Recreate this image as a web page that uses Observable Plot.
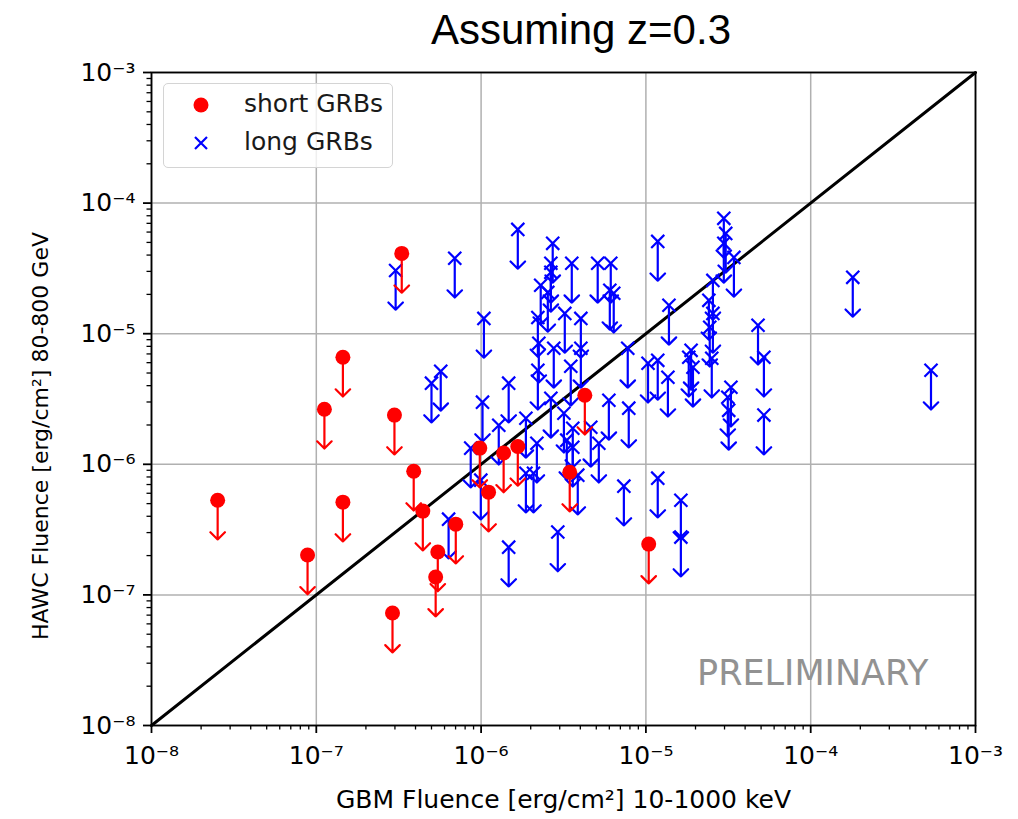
<!DOCTYPE html>
<html><head><meta charset="utf-8">
<script src="https://cdn.jsdelivr.net/npm/d3@7"></script>
<script src="https://cdn.jsdelivr.net/npm/@observablehq/plot@0.6"></script>
<style>
body{margin:0;background:#fff;}
#wrap{position:relative;width:1018px;height:819px;overflow:hidden;}
#title{position:absolute;left:0;width:1162px;top:6px;text-align:center;font-family:"Liberation Sans",sans-serif;font-size:42px;color:#000;}
#legend{position:absolute;left:163px;top:83px;width:230px;height:85px;box-sizing:border-box;border:1.5px solid #d4d4d4;border-radius:5px;background:rgba(255,255,255,0.8);font-family:"DejaVu Sans";font-size:25px;color:#1a1a1a;}
.item{position:absolute;left:0;height:30px;width:100%;}
.item svg{position:absolute;left:22px;top:0;}
.item span{position:absolute;left:80px;top:0px;line-height:28px;white-space:nowrap;}
</style></head><body><div id="wrap">
<div id="title">Assuming z=0.3</div>
</div>
<script>
// short GRBs: GBM fluence (erg/cm2) and HAWC fluence upper limits (erg/cm2)
const shortGBM  = [3.3e-7, 1.45e-7, 1.12e-7, 2.98e-7, 2.52e-8, 1.45e-7, 3.9e-7, 4.43e-7, 8.85e-8, 2.9e-7, 5.46e-7, 5.3e-7, 7.02e-7, 9.82e-7, 1.11e-6, 1.37e-6, 1.67e-6, 4.26e-6, 3.45e-6, 1.04e-5];
const shortHAWC = [4.12e-5, 6.6e-6, 2.64e-6, 2.38e-6, 5.31e-7, 5.13e-7, 8.85e-7, 4.38e-7, 2.02e-7, 7.26e-8, 2.13e-7, 1.37e-7, 3.48e-7, 1.33e-6, 6.12e-7, 1.22e-6, 1.37e-6, 3.38e-6, 8.7e-7, 2.45e-7];
// long GRBs
const longGBM  = [3.03e-7, 5.0e-7, 5.69e-7, 6.35e-7, 6.92e-7, 8.65e-7, 1.02e-6, 9.96e-7, 1.04e-6, 1.28e-6,
                  1.47e-6, 1.47e-6, 1.67e-6, 1.87e-6, 1.87e-6, 2.08e-6, 2.18e-6, 2.21e-6, 2.24e-6, 2.21e-6,
                  2.30e-6, 2.54e-6, 2.72e-6, 2.65e-6, 2.65e-6, 2.76e-6, 2.65e-6, 2.92e-6, 3.18e-6, 3.22e-6,
                  3.5e-6, 3.55e-6, 3.6e-6, 3.6e-6, 3.86e-6, 4.03e-6, 4.03e-6, 4.63e-6, 5.1e-6, 5.18e-6,
                  5.96e-6, 6.12e-6, 6.04e-6, 6.38e-6, 7.76e-6, 7.87e-6, 7.35e-6, 1.18e-5, 1.38e-5, 1.03e-5,
                  1.18e-5, 1.36e-5, 1.18e-5, 1.63e-5, 1.63e-5, 1.88e-5, 1.82e-5, 1.93e-5, 2.55e-5, 2.41e-5,
                  2.55e-5, 2.44e-5, 2.51e-5, 2.97e-5, 3.05e-5, 2.97e-5, 3.42e-5, 3.28e-5, 3.14e-5, 3.18e-5,
                  4.79e-5, 5.2e-5, 5.2e-5, 1.8e-4, 5.37e-4, 3.31e-6];
const longHAWC = [3.05e-5, 4.18e-6, 5.15e-6, 3.8e-7, 3.78e-5, 1.33e-6, 2.99e-6, 7.56e-7, 1.31e-5, 1.99e-6,
                  4.18e-6, 2.32e-7, 6.29e-5, 2.25e-6, 8.55e-7, 8.55e-7, 1.45e-6, 1.33e-5, 8.45e-6, 5.25e-6,
                  2.35e-5, 2.07e-5, 4.92e-5, 3.46e-5, 2.95e-5, 7.73e-6, 3.2e-6, 3.03e-7, 2.46e-6, 1.43e-5,
                  5.63e-6, 3.46e-5, 1.89e-6, 1.35e-6, 8.26e-7, 1.31e-5, 7.73e-6, 1.92e-6, 3.46e-5, 1.45e-6,
                  3.09e-6, 3.46e-5, 2.15e-5, 2.04e-5, 7.73e-6, 2.69e-6, 6.8e-7, 5.09e-5, 1.65e-5, 5.94e-6,
                  6.25e-6, 4.64e-6, 7.83e-7, 5.31e-7, 2.77e-7, 7.46e-6, 6.6e-6, 5.53e-6, 2.56e-5, 1.8e-5,
                  1.43e-5, 1.12e-5, 6.49e-6, 7.64e-5, 5.86e-5, 4.92e-5, 3.84e-5, 3.89e-6, 3.26e-6, 2.59e-6,
                  1.16e-5, 6.6e-6, 2.38e-6, 2.7e-5, 5.25e-6, 1.53e-6];
const decades = [1e-8, 1e-7, 1e-6, 1e-5, 1e-4, 1e-3];
const decadeLabels = ["10⁻⁸", "10⁻⁷", "10⁻⁶", "10⁻⁵", "10⁻⁴", "10⁻³"];
const minorMultipliers = [2, 3, 4, 5, 6, 7, 8, 9];
const identityLine = [1e-8, 1e-3];
const limitFactor = 0.5;
const xLabel = "GBM Fluence [erg/cm²] 10-1000 keV";
const yLabel = "HAWC Fluence [erg/cm²] 80-800 GeV";
const seriesNames = ["short GRBs", "long GRBs"];

const shortRows = shortGBM.map((x, i) => ({x, y: shortHAWC[i]}));
const longRows = longGBM.map((x, i) => ({x, y: longHAWC[i]}));
const minorTicks = decades.slice(0, -1).flatMap(d => minorMultipliers.map(m => m * d));
const fmt = d => decadeLabels[decades.indexOf(d)];

const chart = Plot.plot({
  width: 1018, height: 819,
  marginTop: 72, marginRight: 43, marginBottom: 94, marginLeft: 151,
  x: {type: "log", domain: [1e-8, 1e-3]},
  y: {type: "log", domain: [1e-8, 1e-3]},
  style: {fontFamily: "DejaVu Sans", fontSize: "24px", color: "#000", background: "#fff", overflow: "visible"},
  marks: [
    Plot.gridX(decades, {stroke: "#b0b0b0", strokeOpacity: 1, strokeWidth: 1.5}),
    Plot.gridY(decades, {stroke: "#b0b0b0", strokeOpacity: 1, strokeWidth: 1.5}),
    Plot.axisX(minorTicks, {tickSize: 4.5, tickFormat: () => "", label: null, strokeWidth: 1.3}),
    Plot.axisY(minorTicks, {tickSize: 4.5, tickFormat: () => "", label: null, strokeWidth: 1.3}),
    Plot.axisX(decades, {tickSize: 8, tickPadding: 13, tickFormat: fmt, label: null, strokeWidth: 1.8, fontSize: 25}),
    Plot.axisY(decades, {tickSize: 8, tickPadding: 8, tickFormat: fmt, label: null, strokeWidth: 1.8, fontSize: 25}),
    Plot.frame({stroke: "#000", strokeWidth: 1.8}),
    Plot.line(identityLine, {x: d => d, y: d => d, stroke: "#000", strokeWidth: 3}),
    Plot.arrow(longRows, {x: "x", y1: "y", y2: d => d.y * limitFactor, stroke: "#0000ff", strokeWidth: 2.2, headAngle: 90, headLength: 7}),
    Plot.dot(longRows, {x: "x", y: "y", symbol: "times", r: 6, stroke: "#0000ff", strokeWidth: 2.2}),
    Plot.arrow(shortRows, {x: "x", y1: "y", y2: d => d.y * limitFactor, stroke: "#ff0000", strokeWidth: 2.2, headAngle: 90, headLength: 7}),
    Plot.dot(shortRows, {x: "x", y: "y", r: 7.5, fill: "#ff0000"}),
    Plot.text(["PRELIMINARY"], {frameAnchor: "bottom-right", text: d => d, dx: -47, dy: -52, textAnchor: "end", lineAnchor: "middle", fontSize: 35, fill: "#929292"}),
    Plot.text([xLabel], {frameAnchor: "bottom", text: d => d, dy: 74, lineAnchor: "middle", textAnchor: "middle", fontSize: 25}),
    Plot.text([yLabel], {frameAnchor: "left", text: d => d, rotate: -90, dx: -111, dy: 37, lineAnchor: "middle", textAnchor: "middle", fontSize: 22})
  ]
});
const wrap = document.getElementById("wrap");
wrap.insertBefore(chart, wrap.firstChild);

const legend = document.createElement("div");
legend.id = "legend";
legend.innerHTML = `
<div class="item" style="top:6px"><svg width="30" height="30"><circle cx="15" cy="15" r="7.5" fill="#ff0000"/></svg><span>${seriesNames[0]}</span></div>
<div class="item" style="top:44px"><svg width="30" height="30"><path d="M9 9L21 21M21 9L9 21" stroke="#0000ff" stroke-width="2.2" fill="none"/></svg><span>${seriesNames[1]}</span></div>`;
wrap.appendChild(legend);
</script>
</body></html>
